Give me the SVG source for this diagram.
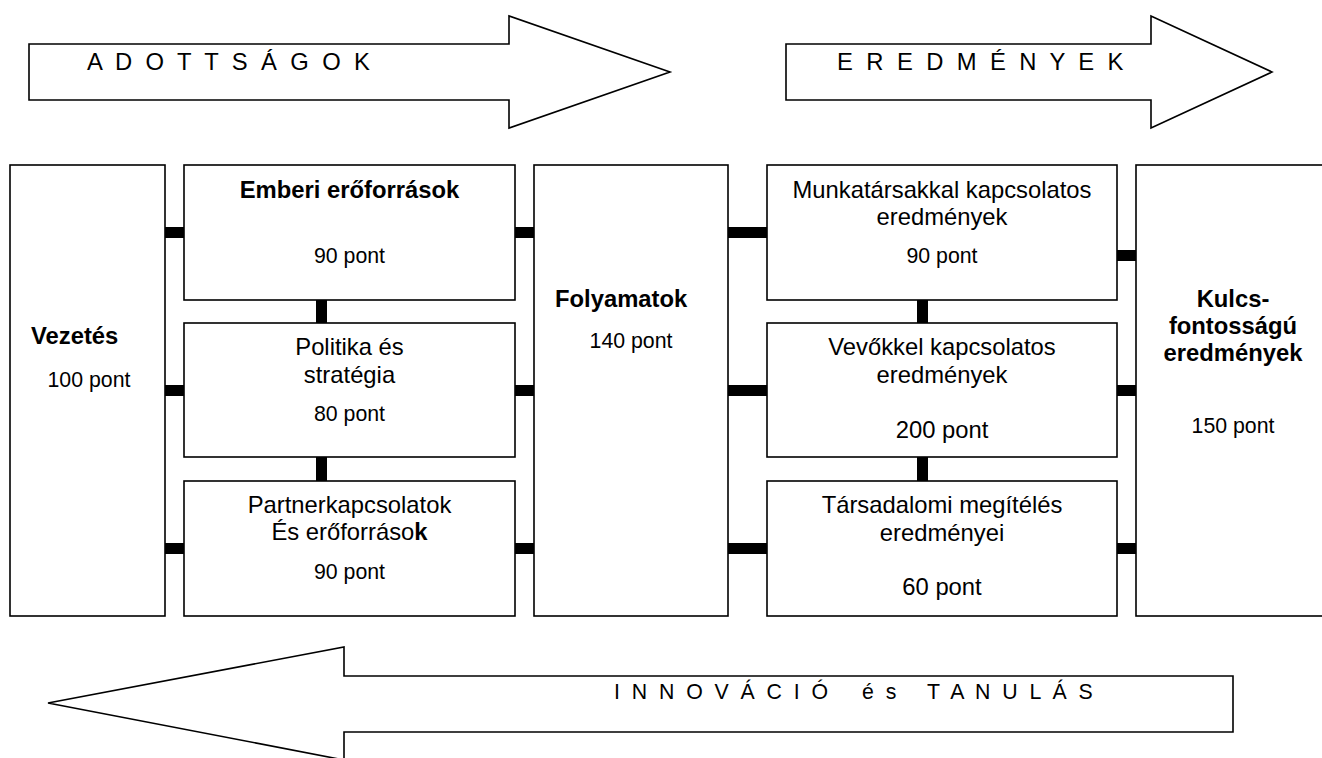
<svg xmlns="http://www.w3.org/2000/svg" width="1322" height="758" viewBox="0 0 1322 758">
<style>
text{font-family:"Liberation Sans",Arial,sans-serif;fill:#000}
.box{fill:#fff;stroke:#000;stroke-width:1.6}
.arr{fill:#fff;stroke:#000;stroke-width:1.6;stroke-linejoin:miter}
.lbl{font-size:23.8px}
.pt{font-size:21.3px}
.b{font-weight:bold}
.c{text-anchor:middle}
.bar{fill:#000}
.big{font-size:23.8px;letter-spacing:3.4px}
.low{font-size:21.3px;letter-spacing:2.95px}
</style>
<rect width="1322" height="758" fill="#fff"/>
<g id="arrow-adottsagok">
<polygon class="arr" points="29,44 509,44 509,16 670,72 509,128 509,100 29,100"/>
<text class="big" x="87" y="70">A D O T T S Á G O K</text>
</g>
<g id="arrow-eredmenyek">
<polygon class="arr" points="786,44 1151,44 1151,16 1272,72 1151,128 1151,100 786,100"/>
<text class="big" x="837" y="70">E R E D M É N Y E K</text>
</g>
<g id="arrow-innovacio">
<polygon class="arr" points="1233,676 344,676 344,647 48,703 344,760 344,732 1233,732"/>
<text class="low" y="699"><tspan x="614">I N N O V Á C I Ó</tspan><tspan x="862">é s</tspan><tspan x="927">T A N U L Á S</tspan></text>
</g>
<g id="connectors">
<rect class="bar" x="164" y="227" width="21" height="11"/>
<rect class="bar" x="164" y="385" width="21" height="11"/>
<rect class="bar" x="164" y="543" width="21" height="11"/>
<rect class="bar" x="514" y="227" width="21" height="11"/>
<rect class="bar" x="514" y="385" width="21" height="11"/>
<rect class="bar" x="514" y="543" width="21" height="11"/>
<rect class="bar" x="727" y="227" width="41" height="11"/>
<rect class="bar" x="727" y="385" width="41" height="11"/>
<rect class="bar" x="727" y="543" width="41" height="11"/>
<rect class="bar" x="1116" y="250" width="21" height="11"/>
<rect class="bar" x="1116" y="385" width="21" height="11"/>
<rect class="bar" x="1116" y="543" width="21" height="11"/>
<rect class="bar" x="316" y="299" width="11" height="25"/>
<rect class="bar" x="316" y="456" width="11" height="26"/>
<rect class="bar" x="917" y="299" width="11" height="25"/>
<rect class="bar" x="917" y="456" width="11" height="26"/>
</g>
<g id="vezetes">
<rect class="box" x="10" y="165" width="155" height="451"/>
<text class="lbl b" x="31" y="344">Vezetés</text>
<text class="pt" x="47.5" y="387">100 pont</text>
</g>
<g id="emberi">
<rect class="box" x="184" y="165" width="331" height="135"/>
<text class="lbl b c" x="349.5" y="198">Emberi erőforrások</text>
<text class="pt c" x="349.5" y="263">90 pont</text>
</g>
<g id="politika">
<rect class="box" x="184" y="323" width="331" height="134"/>
<text class="lbl c" x="349.5" y="355">Politika és</text>
<text class="lbl c" x="349.5" y="383">stratégia</text>
<text class="pt c" x="349.5" y="421">80 pont</text>
</g>
<g id="partner">
<rect class="box" x="184" y="481" width="331" height="135"/>
<text class="lbl c" x="349.5" y="513">Partnerkapcsolatok</text>
<text class="lbl c" x="349.5" y="540">És erőforráso<tspan class="b">k</tspan></text>
<text class="pt c" x="349.5" y="579">90 pont</text>
</g>
<g id="folyamatok">
<rect class="box" x="534" y="165" width="194" height="451"/>
<text class="lbl b" x="555" y="307">Folyamatok</text>
<text class="pt c" x="631" y="348">140 pont</text>
</g>
<g id="munkatarsak">
<rect class="box" x="767" y="165" width="350" height="135"/>
<text class="lbl c" x="942" y="198">Munkatársakkal kapcsolatos</text>
<text class="lbl c" x="942" y="225">eredmények</text>
<text class="pt c" x="942" y="263">90 pont</text>
</g>
<g id="vevok">
<rect class="box" x="767" y="323" width="350" height="134"/>
<text class="lbl c" x="942" y="355">Vevőkkel kapcsolatos</text>
<text class="lbl c" x="942" y="383">eredmények</text>
<text class="lbl c" x="942" y="438">200 pont</text>
</g>
<g id="tarsadalmi">
<rect class="box" x="767" y="481" width="350" height="135"/>
<text class="lbl c" x="942" y="513">Társadalomi megítélés</text>
<text class="lbl c" x="942" y="541">eredményei</text>
<text class="lbl c" x="942" y="595">60 pont</text>
</g>
<g id="kulcs">
<rect class="box" x="1136" y="165" width="200" height="451"/>
<text class="lbl b c" x="1233" y="307">Kulcs-</text>
<text class="lbl b c" x="1233" y="334">fontosságú</text>
<text class="lbl b c" x="1233" y="361">eredmények</text>
<text class="pt c" x="1233" y="433">150 pont</text>
</g>
</svg>
